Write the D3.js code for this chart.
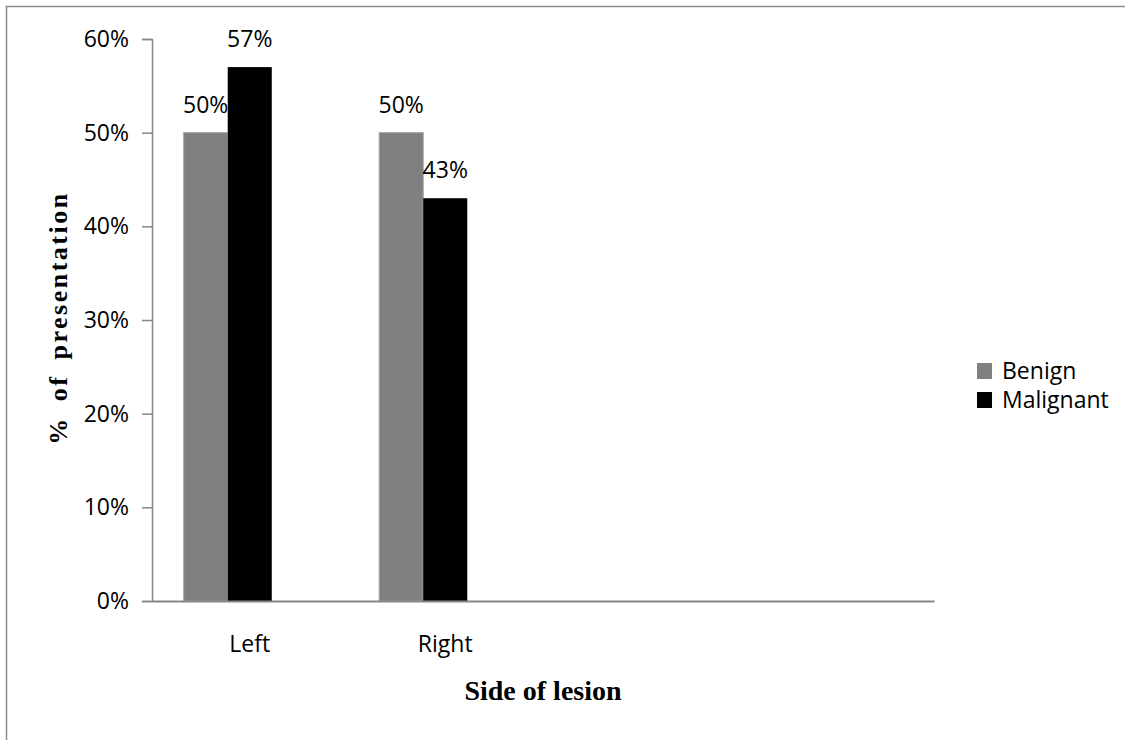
<!DOCTYPE html>
<html>
<head>
<meta charset="utf-8">
<script src="https://cdn.jsdelivr.net/npm/d3@7"></script>
<style>
  html, body { margin: 0; padding: 0; background: #fff; }
  svg { display: block; }
</style>
</head>
<body>
<svg id="chart" width="1125" height="740"></svg>
<script>
// Category slots along the x axis (two unused slots keep the original spacing)
const categories = ["Left", "Right", "", ""];
const seriesNames = ["Benign", "Malignant"];
const benignValues = [50, 50, null, null];
const malignantValues = [57, 43, null, null];
const yTicks = [0, 10, 20, 30, 40, 50, 60];
const seriesColors = ["#808080", "#000000"];

const svg = d3.select("#chart");

// Chart-area frame (only top and left edges fall inside the view)
svg.append("rect")
  .attr("x", 6.5).attr("y", 6.5)
  .attr("width", 1400).attr("height", 1000)
  .attr("fill", "none")
  .attr("stroke", "#8c8c8c")
  .attr("stroke-width", 1.5);

const plot = { left: 152, right: 934, top: 39, bottom: 601 };

const x = d3.scaleBand()
  .domain(d3.range(categories.length))
  .range([plot.left, plot.right])
  .paddingInner(0).paddingOuter(0);

// Three slots per category: the third one is a reserved empty series
const slot = d3.scaleBand()
  .domain([...seriesNames, "reserved"])
  .range([0, x.bandwidth()])
  .paddingInner(0)
  .paddingOuter(0.72);

const y = d3.scaleLinear().domain([0, 60]).range([plot.bottom, plot.top]);

const textFont = "'Open Sans', 'Noto Sans', sans-serif";
const fontSize = 23;

// Y axis
const yAxis = svg.append("g")
  .attr("transform", `translate(${plot.left},0)`)
  .call(d3.axisLeft(y).tickValues(yTicks).tickFormat(d => d + "%").tickSize(10).tickPadding(13));
yAxis.select(".domain").attr("stroke", "#868686").attr("stroke-width", 1.5);
yAxis.selectAll(".tick line").attr("stroke", "#868686").attr("stroke-width", 1.5);
yAxis.selectAll(".tick text")
  .attr("font-family", textFont).attr("font-size", fontSize).attr("fill", "#000");

// Bars
const barData = [];
categories.forEach((c, i) => {
  [benignValues, malignantValues].forEach((vals, s) => {
    if (vals[i] != null) barData.push({ cat: i, series: seriesNames[s], value: vals[i], color: seriesColors[s] });
  });
});

svg.append("g").selectAll("rect")
  .data(barData)
  .join("rect")
  .attr("x", d => x(d.cat) + slot(d.series))
  .attr("y", d => y(d.value))
  .attr("width", slot.bandwidth())
  .attr("height", d => y(0) - y(d.value))
  .attr("fill", d => d.color)
  .attr("stroke", d => d.series === "Benign" ? "#a3a3a3" : "none")
  .attr("stroke-width", 1);

// Value labels
svg.append("g").selectAll("text")
  .data(barData)
  .join("text")
  .attr("x", d => x(d.cat) + slot(d.series) + slot.bandwidth() / 2)
  .attr("y", d => y(d.value) - 20)
  .attr("text-anchor", "middle")
  .attr("font-family", textFont)
  .attr("font-size", fontSize)
  .attr("fill", "#000")
  .text(d => d.value + "%");

// X axis
const xAxis = svg.append("g")
  .attr("transform", `translate(0,${plot.bottom})`)
  .call(d3.axisBottom(x).tickFormat(i => categories[i]).tickSize(0).tickPadding(35));
xAxis.select(".domain").attr("stroke", "#868686").attr("stroke-width", 2);
xAxis.selectAll(".tick text")
  .attr("font-family", textFont).attr("font-size", fontSize).attr("fill", "#000");

// Axis titles
svg.append("text")
  .attr("x", 543).attr("y", 700)
  .attr("text-anchor", "middle")
  .attr("font-family", "'Liberation Serif', 'Times New Roman', serif")
  .attr("font-weight", "bold")
  .attr("font-size", 28)
  .attr("fill", "#000")
  .text("Side of lesion");

svg.append("text")
  .attr("transform", "translate(67,318) rotate(-90)")
  .attr("text-anchor", "middle")
  .attr("font-family", "'Liberation Serif', 'Times New Roman', serif")
  .attr("font-weight", "bold")
  .attr("font-size", 26)
  .attr("letter-spacing", 2.5)
  .attr("word-spacing", 6)
  .attr("fill", "#000")
  .text("% of presentation");

// Legend
const legend = svg.append("g").attr("transform", "translate(977,371)");
const item = legend.selectAll("g")
  .data(seriesNames)
  .join("g")
  .attr("transform", (d, i) => `translate(0,${i * 29})`);
item.append("rect")
  .attr("x", 0).attr("y", -8)
  .attr("width", 15).attr("height", 16)
  .attr("fill", (d, i) => seriesColors[i]);
item.append("text")
  .attr("x", 25).attr("y", 0)
  .attr("dy", "0.35em")
  .attr("font-family", textFont)
  .attr("font-size", fontSize)
  .attr("fill", "#000")
  .text(d => d);
</script>
</body>
</html>
